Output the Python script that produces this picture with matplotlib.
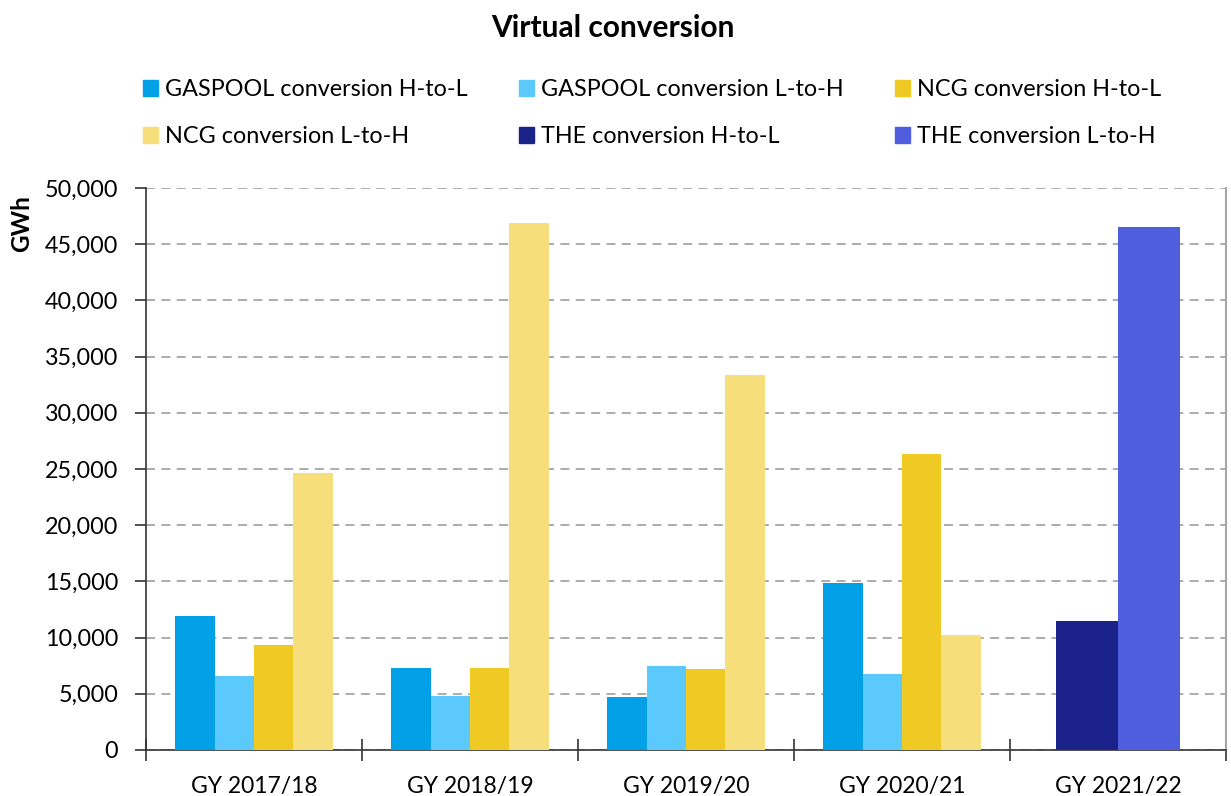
"""Virtual conversion volumes per gas year, grouped bar chart."""
import numpy as np
import matplotlib
matplotlib.use("Agg")
import matplotlib.pyplot as plt
from matplotlib.ticker import FuncFormatter, FixedLocator

plt.rcParams["font.family"] = ["Lato", "DejaVu Sans"]

# data (GWh), nan = not present in that year
gas_years = ["GY 2017/18", "GY 2018/19", "GY 2019/20", "GY 2020/21", "GY 2021/22"]
gaspool_h_to_l = [11900, 7300, 4700, 14900, np.nan]
gaspool_l_to_h = [6600, 4800, 7500, 6800, np.nan]
ncg_h_to_l = [9300, 7300, 7200, 26300, np.nan]
ncg_l_to_h = [24600, 46900, 33400, 10200, np.nan]
the_h_to_l = [np.nan, np.nan, np.nan, np.nan, 11500]
the_l_to_h = [np.nan, np.nan, np.nan, np.nan, 46500]

series = [
    ("GASPOOL conversion H-to-L", gaspool_h_to_l, "#02A0E6"),
    ("GASPOOL conversion L-to-H", gaspool_l_to_h, "#5BC9FB"),
    ("NCG conversion H-to-L", ncg_h_to_l, "#F0CA24"),
    ("NCG conversion L-to-H", ncg_l_to_h, "#F6DF7A"),
    ("THE conversion H-to-L", the_h_to_l, "#1B238B"),
    ("THE conversion L-to-H", the_l_to_h, "#4F5EDF"),
]

fig = plt.figure(figsize=(12.31, 7.96), dpi=100)
ax = fig.add_axes([0.1186, 0.0578, 0.8773, 0.706])

x = np.arange(len(gas_years))
for i, year in enumerate(gas_years):
    # only the series that exist in this year share the slot
    present = [s for s in series if not np.isnan(s[1][i])]
    width = 0.73 / len(present) if len(present) > 2 else 0.575 / len(present)
    start = x[i] - width * len(present) / 2
    for j, (name, vals, color) in enumerate(present):
        ax.bar(start + width * (j + 0.5), vals[i], width=width, color=color,
               edgecolor="none", zorder=3)

handles = [plt.Rectangle((0, 0), 1, 1, color=color, label=name)
           for name, vals, color in series]

ax.set_xlim(-0.5, len(gas_years) - 0.5)
ax.set_ylim(0, 50000)
ax.set_yticks(np.arange(0, 50001, 5000))
ax.yaxis.set_major_formatter(FuncFormatter(lambda v, p: f"{v:,.0f}"))
ax.tick_params(axis="y", labelsize=16.8, length=8, width=1.2, color="#333333", pad=12)

# category boundaries carry the tick marks, labels sit at centres
ax.xaxis.set_major_locator(FixedLocator(np.arange(-0.5, len(gas_years), 1.0)))
ax.xaxis.set_minor_locator(FixedLocator(x))
ax.set_xticklabels([], minor=False)
ax.set_xticklabels(gas_years, minor=True)
ax.tick_params(axis="x", which="major", direction="inout", length=16, width=1.2, color="#333333")
ax.tick_params(axis="x", which="minor", length=0, labelsize=16.5, pad=19)

ax.grid(axis="y", color="#A6A6A6", linestyle=(0, (5, 3.5)), linewidth=1.3, zorder=0)
ax.spines["top"].set_visible(False)
ax.spines["left"].set_color("#333333")
ax.spines["left"].set_linewidth(1.2)
ax.spines["bottom"].set_color("#333333")
ax.spines["bottom"].set_linewidth(1.2)
ax.spines["right"].set_color("#A6A6A6")
ax.spines["right"].set_linewidth(1.5)

ax.set_ylabel("GWh", fontsize=17.5, fontweight="bold")
ax.yaxis.set_label_coords(-0.1046, 0.936)

fig.text(0.498, 0.965, "Virtual conversion", ha="center", va="center",
         fontsize=21.5, fontweight="bold")

# legend reads row by row in the reference
order = [0, 3, 1, 4, 2, 5]
fig.legend([handles[k] for k in order], [handles[k].get_label() for k in order],
           ncol=3, loc="upper left", bbox_to_anchor=(0.116, 0.9005), frameon=False,
           fontsize=16.8, handlelength=0.64, handleheight=0.64, handletextpad=0.3,
           columnspacing=2.2, labelspacing=1.12, borderpad=0, borderaxespad=0)

fig.savefig("out.png", dpi=100)
